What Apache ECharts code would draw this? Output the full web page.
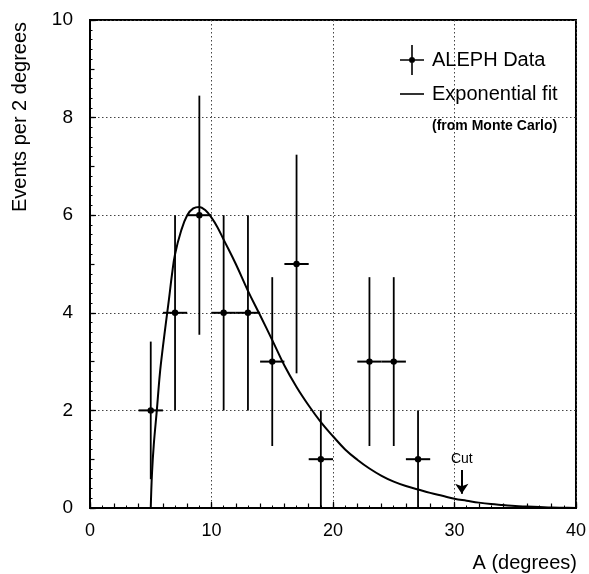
<!DOCTYPE html>
<html>
<head>
<meta charset="utf-8">
<script src="https://cdn.jsdelivr.net/npm/echarts@6/dist/echarts.min.js"></script>
<style>
  html, body { margin: 0; padding: 0; background: #fff; }
  #chart { width: 589px; height: 574px; }
</style>
</head>
<body>
<div id="chart"></div>
<script>
// ---- data ----
const binCenters = [5, 7, 9, 11, 13, 15, 17, 19, 23, 25, 27];
const counts     = [2, 4, 6, 4, 4, 3, 5, 1, 3, 3, 1];
const yErrors    = [1.41, 2, 2.45, 2, 2, 1.73, 2.24, 1, 1.73, 1.73, 1];
const xErrors    = [1, 1, 1, 1, 1, 1, 1, 1, 1, 1, 1];

const fitX = [5, 5.1, 5.25, 5.5, 5.75, 6, 6.25, 6.5, 6.75, 7, 7.5, 8, 8.5, 9, 9.5, 10, 10.5, 11,
              12, 13, 14, 15, 16, 17, 18, 19, 20, 21, 22, 23, 24, 25, 26, 27, 28, 29, 30,
              31, 32, 33, 34, 35, 36, 37, 38, 39, 40];
const fitY = [0, 0.7, 1.3, 2.0, 2.75, 3.3, 3.8, 4.28, 4.79, 5.2, 5.68, 6.0, 6.14, 6.17, 6.1, 5.95, 5.75, 5.5,
              5.0, 4.45, 3.95, 3.44, 2.92, 2.48, 2.1, 1.76, 1.47, 1.2, 0.99, 0.81, 0.66, 0.54, 0.45, 0.38, 0.31, 0.25, 0.19,
              0.15, 0.11, 0.08, 0.06, 0.04, 0.03, 0.02, 0.01, 0.005, 0];

const xTicks = { min: 0, max: 40, interval: 10 };
const yTicks = { min: 0, max: 10, interval: 2 };

const cutX = [30.6];
const cutArrowY = [0.78, 0.29];
const cutLabel = 'Cut';

const seriesNames = ['ALEPH Data', 'Exponential fit'];
const fitNote = '(from Monte Carlo)';
const xTitle = 'A (degrees)';
const yTitle = 'Events per 2 degrees';

// ---- chart ----
const FONT = '"Liberation Sans", Arial, sans-serif';
const chart = echarts.init(document.getElementById('chart'), null, { renderer: 'canvas' });

const dataPts = binCenters.map((x, i) => [x, counts[i], xErrors[i], yErrors[i]]);
const fitPts = fitX.map((x, i) => [x, fitY[i]]);

function renderErr(params, api) {
  const x = api.value(0), y = api.value(1), ex = api.value(2), ey = api.value(3);
  const c = api.coord([x, y]);
  const t = api.coord([x, y + ey]);
  const b = api.coord([x, Math.max(0, y - ey)]);
  const l = api.coord([x - ex, y]);
  const r = api.coord([x + ex, y]);
  return {
    type: 'group',
    children: [
      { type: 'line', shape: { x1: t[0], y1: t[1], x2: b[0], y2: b[1] }, style: { stroke: '#000', lineWidth: 1.8 } },
      { type: 'line', shape: { x1: l[0], y1: l[1], x2: r[0], y2: r[1] }, style: { stroke: '#000', lineWidth: 2 } },
      { type: 'circle', shape: { cx: c[0], cy: c[1], r: 3.2 }, style: { fill: '#000' } }
    ]
  };
}

const gridLine = { show: true, lineStyle: { color: '#444', type: [1.5, 2.5], width: 1 } };

const option = {
  animation: false,
  backgroundColor: '#fff',
  grid: { left: 90, top: 20, width: 488, height: 488, show: true, borderColor: '#000', borderWidth: 2, backgroundColor: 'transparent' },
  xAxis: [
    {
      type: 'value', min: xTicks.min, max: xTicks.max, interval: xTicks.interval,
      axisLine: { show: true, lineStyle: { color: '#000', width: 2 } },
      axisTick: { show: true, inside: true, length: 6, lineStyle: { color: '#000', width: 1.2 } },
      minorTick: { show: true, splitNumber: 10, length: 2.5, lineStyle: { color: '#000', width: 1 } },
      axisLabel: { color: '#000', fontSize: 18, fontFamily: FONT, margin: 14 },
      splitLine: gridLine
    },
    {
      type: 'value', min: xTicks.min, max: xTicks.max, interval: 2, position: 'bottom',
      axisLine: { show: false },
      axisTick: { show: true, inside: true, length: 4.5, lineStyle: { color: '#000', width: 1.2 } },
      axisLabel: { show: false }, splitLine: { show: false }
    }
  ],
  yAxis: [
    {
      type: 'value', min: yTicks.min, max: yTicks.max, interval: yTicks.interval,
      axisLine: { show: true, lineStyle: { color: '#000', width: 2 } },
      axisTick: { show: true, inside: true, length: 6, lineStyle: { color: '#000', width: 1.2 } },
      minorTick: { show: true, splitNumber: 10, length: 2.5, lineStyle: { color: '#000', width: 1 } },
      axisLabel: { color: '#000', fontSize: 19, fontFamily: FONT, margin: 17 },
      splitLine: gridLine
    },
    {
      type: 'value', min: yTicks.min, max: yTicks.max, interval: 1, position: 'left',
      axisLine: { show: false },
      axisTick: { show: true, inside: true, length: 4.5, lineStyle: { color: '#000', width: 1.2 } },
      axisLabel: { show: false }, splitLine: { show: false }
    }
  ],
  legend: {
    left: 395, top: 40, orient: 'vertical',
    itemWidth: 24, itemHeight: 30, itemGap: 9,
    selectedMode: false, symbolKeepAspect: true,
    textStyle: { color: '#000', fontSize: 20, fontFamily: FONT, padding: [0, 0, 0, 3] },
    data: [
      { name: seriesNames[0], icon: 'path://M11.2,0h1.6v30h-1.6z M0,14.2h24v1.6h-24z M9,15a3,3 0 1,1 6,0a3,3 0 1,1 -6,0z' },
      { name: seriesNames[1], icon: 'path://M0,0h24v1.6h-24z' }
    ]
  },
  graphic: [
    { type: 'text', left: 432, top: 119, style: { text: fitNote, fill: '#000', font: 'bold 14px ' + FONT } },
    { type: 'text', x: 20, y: 117, rotation: Math.PI / 2,
      style: { text: yTitle, fill: '#000', font: '20px ' + FONT, align: 'center', verticalAlign: 'middle' } },
    { type: 'text', right: 12, top: 553, style: { text: xTitle, fill: '#000', font: '20px ' + FONT } }
  ],
  series: [
    {
      name: seriesNames[0], type: 'custom', renderItem: renderErr,
      data: dataPts, encode: { x: 0, y: 1 }, itemStyle: { color: '#000' }, z: 3, clip: true
    },
    {
      name: seriesNames[1], type: 'line', data: fitPts, showSymbol: false, symbol: 'none',
      smooth: 0.4,
      lineStyle: { color: '#000', width: 2 }, itemStyle: { color: '#000' }, z: 4,
      markLine: {
        silent: true, symbol: ['none', 'arrow'], symbolSize: 10,
        lineStyle: { color: '#000', width: 2, type: 'solid' },
        label: { show: true, position: 'start', formatter: cutLabel, color: '#000', fontSize: 14, fontFamily: FONT, distance: 4 },
        data: [[{ coord: [cutX[0], cutArrowY[0]] }, { coord: [cutX[0], cutArrowY[1]] }]]
      }
    }
  ]
};
chart.setOption(option);
</script>
</body>
</html>
